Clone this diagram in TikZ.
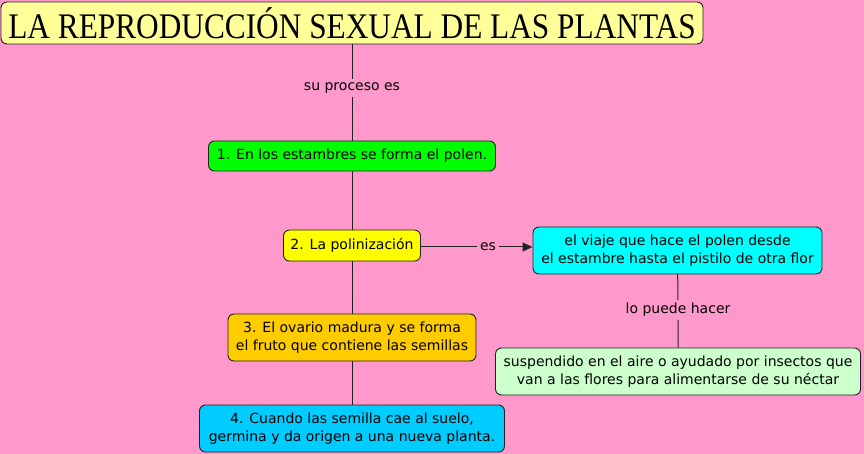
\documentclass[tikz,border=0pt]{standalone}
\usepackage{fontspec}
\setmainfont{DejaVu Sans}
\newfontfamily\titlefont{Liberation Serif}
\usepackage{xcolor}
\definecolor{mappink}{RGB}{255, 153, 204}
\definecolor{titleyellow}{RGB}{255, 255, 153}
\definecolor{stepgreen}{RGB}{0, 255, 0}
\definecolor{stepyellow}{RGB}{255, 255, 0}
\definecolor{steporange}{RGB}{255, 204, 0}
\definecolor{stepblue}{RGB}{0, 204, 255}
\definecolor{travelcyan}{RGB}{0, 255, 255}
\definecolor{agentgreen}{RGB}{204, 255, 204}
\definecolor{darkline}{RGB}{34, 34, 34}
\usepackage{tikz}
\usetikzlibrary{arrows.meta}

\begin{document}
\begin{tikzpicture}[x=1pt, y=-1pt, >={Triangle[length=10pt, width=9pt]},
    concept/.style={draw=darkline, line width=0.9pt, rounded corners=6pt, align=center, inner sep=0pt,
        font=\fontsize{14}{18}\selectfont},
    linklabel/.style={inner sep=3pt, font=\fontsize{14}{16}\selectfont},
    link/.style={darkline, line width=1pt}]
    \fill[mappink] (0,0) rectangle (864,454);
    \useasboundingbox (0,0) rectangle (864,454);

    % main column
    \node[concept, fill=titleyellow, minimum width=702pt, minimum height=42pt] (title) at (352,23)
        {\titlefont\fontsize{36}{40}\selectfont\scalebox{0.87}[1]{LA REPRODUCCIÓN SEXUAL DE LAS PLANTAS}};
    \node[linklabel] (proceso) at (352,88) {su proceso es};
    \node[concept, fill=stepgreen, minimum width=287pt, minimum height=30pt] (estambres) at (352,156)
        {1. En los estambres se forma el polen.};
    \node[concept, fill=stepyellow, minimum width=137pt, minimum height=31pt] (polinizacion) at (352,245.5)
        {2. La polinización};
    \node[concept, fill=steporange, minimum width=248pt, minimum height=47pt] (ovario) at (352,337.5)
        {3. El ovario madura y se forma\\el fruto que contiene las semillas};
    \node[concept, fill=stepblue, minimum width=305pt, minimum height=47pt] (semilla) at (352,428.5)
        {4. Cuando las semilla cae al suelo,\\germina y da origen a una nueva planta.};

    % right branch
    \node[linklabel] (es) at (488,247) {es};
    \node[concept, fill=travelcyan, minimum width=289pt, minimum height=47pt] (viaje) at (677.5,250.5)
        {el viaje que hace el polen desde\\el estambre hasta el pistilo de otra flor};
    \node[linklabel] (puede) at (678,310) {lo puede hacer};
    \node[concept, fill=agentgreen, minimum width=365pt, minimum height=47pt] (insectos) at (678,371.5)
        {suspendido en el aire o ayudado por insectos que\\van a las flores para alimentarse de su néctar};

    \draw[link] (title) -- (proceso) -- (estambres);
    \draw[link] (estambres) -- (polinizacion) -- (ovario) -- (semilla);
    \draw[link] (polinizacion.east |- es) -- (es);
    \draw[link, ->] (es) -- (es -| viaje.west);
    \draw[link] (viaje) -- (puede) -- (insectos);
\end{tikzpicture}
\end{document}
